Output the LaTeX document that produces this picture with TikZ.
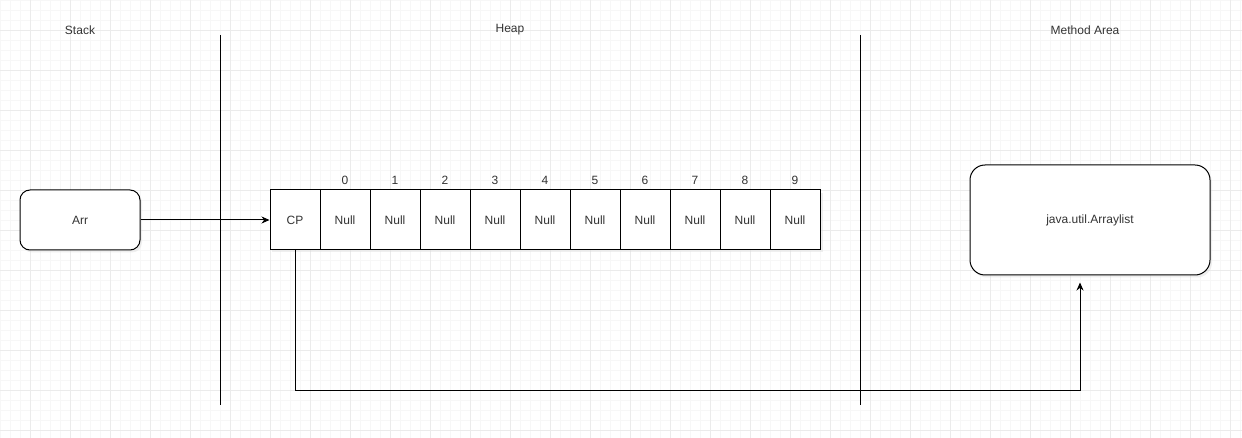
\documentclass[tikz,border=0pt]{standalone}
\usepackage{fontspec}
\setmainfont{Liberation Sans}
\usetikzlibrary{arrows.meta,shadows,calc}
\definecolor{txt}{HTML}{333333}
\definecolor{gminor}{HTML}{F7F7F7}
\definecolor{gmajor}{HTML}{EBEBEB}
\tikzset{
  lbl/.style={text=txt,font=\fontsize{12}{14}\selectfont,inner sep=0pt},
  shad/.style={drop shadow={shadow xshift=2pt,shadow yshift=-2.5pt,fill=gray!30,opacity=0.4}},
  rbox/.style={draw=black,line width=1pt,fill=white,rounded corners=10pt,minimum width=120pt,minimum height=60pt,inner sep=0pt,text=txt,font=\fontsize{12}{14}\selectfont,shad},
  cell/.style={draw=black,line width=1pt,fill=white,minimum width=50pt,minimum height=60pt,inner sep=0pt,text=txt,font=\fontsize{12}{14}\selectfont},
  divider/.style={line width=1pt,black},
  conn/.style={line width=1pt,black,-{Stealth[length=8pt,width=7pt]}}
}
\begin{document}
\begin{tikzpicture}[x=1pt,y=-1pt]
\useasboundingbox (0,0) rectangle (1242,438);
\fill[white] (0,0) rectangle (1242,438);
% grid
\foreach \x in {0,10,...,1240} \draw[gminor,line width=0.6pt] (\x,0) -- (\x,438);
\foreach \y in {0,10,...,430} \draw[gminor,line width=0.6pt] (0,\y) -- (1242,\y);
\foreach \x in {30,70,...,1230} \draw[gmajor,line width=0.8pt] (\x,0) -- (\x,438);
\foreach \y in {30,70,...,430} \draw[gmajor,line width=0.8pt] (0,\y) -- (1242,\y);
% titles
\node[lbl] (tstack) at (80,30) {Stack};
\node[lbl] (theap) at (510,30) {Heap};
\node[lbl] (tmeth) at (1085,30) {Method Area};
% dividers
\coordinate (d1a) at (220,35); \coordinate (d1b) at (220,405);
\coordinate (d2a) at (860,35); \coordinate (d2b) at (860,405);
\draw[divider] (d1a) -- (d1b);
\draw[divider] (d2a) -- (d2b);
% Arr
\node[rbox] (arr) at (80,220) {Arr};
% array
\fill[gray!30,opacity=0.4] (272,193) rectangle (822.5,252.5);
\node[cell] (cp) at (295,220) {CP};
\foreach \i in {0,...,9}{
  \node[cell] (n\i) at ({345+50*\i},220) {Null};
  \node[lbl] (i\i) at ({345+50*\i},180) {\i};
}
% java box
\node[rbox,minimum width=240pt,minimum height=110pt,rounded corners=15pt] (java) at (1090,220) {java.util.Arraylist};
% connectors
\draw[conn] (arr.east) -- (cp.west);
\coordinate (bend) at (1080,390);
\draw[conn,shorten >=7pt] (cp.south) -- (cp.south |- bend) -- (bend) -- (bend |- java.south);
\end{tikzpicture}
\end{document}
